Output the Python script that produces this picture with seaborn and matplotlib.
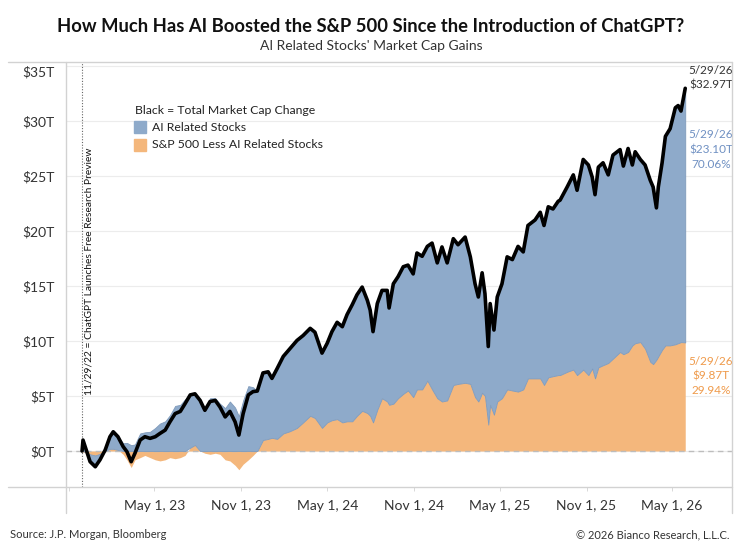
import matplotlib
matplotlib.use("Agg")
import numpy as np
import pandas as pd
import seaborn as sns
import matplotlib.pyplot as plt
from matplotlib.lines import Line2D
from matplotlib.patches import Rectangle
from matplotlib.transforms import ScaledTranslation

# Values (trillions of USD, change since 11/29/22)
dates = [
    "2022-11-29", "2022-12-01", "2022-12-16", "2022-12-27", "2023-01-06", "2023-01-17",
    "2023-01-27", "2023-02-03", "2023-02-13", "2023-02-24", "2023-03-04", "2023-03-13",
    "2023-03-21", "2023-04-01", "2023-04-11", "2023-04-22", "2023-05-03", "2023-05-13",
    "2023-05-24", "2023-06-03", "2023-06-14", "2023-06-25", "2023-07-05", "2023-07-16",
    "2023-07-26", "2023-08-06", "2023-08-16", "2023-08-27", "2023-09-07", "2023-09-17",
    "2023-09-28", "2023-10-08", "2023-10-19", "2023-10-27", "2023-11-05", "2023-11-16",
    "2023-11-26", "2023-12-05", "2023-12-17", "2023-12-28",
    "2024-01-05", "2024-01-16", "2024-01-29", "2024-02-12", "2024-02-27", "2024-03-11",
    "2024-03-26", "2024-04-05", "2024-04-20", "2024-05-01", "2024-05-11", "2024-05-22",
    "2024-06-02", "2024-06-12", "2024-06-23", "2024-07-03", "2024-07-14", "2024-07-25",
    "2024-07-31", "2024-08-06", "2024-08-15", "2024-08-25", "2024-09-05", "2024-09-09",
    "2024-09-18", "2024-09-28", "2024-10-09", "2024-10-19", "2024-10-30", "2024-11-07",
    "2024-11-18", "2024-11-29", "2024-12-09", "2024-12-20", "2024-12-30",
    "2025-01-10", "2025-01-23", "2025-02-02", "2025-02-17", "2025-02-28", "2025-03-10",
    "2025-03-17", "2025-03-25", "2025-03-31", "2025-04-07", "2025-04-11", "2025-04-19",
    "2025-04-26", "2025-05-06", "2025-05-17", "2025-05-28", "2025-06-09", "2025-06-20",
    "2025-06-30", "2025-07-15", "2025-07-26", "2025-08-03", "2025-08-12", "2025-08-22",
    "2025-09-02", "2025-09-06", "2025-09-21", "2025-10-04", "2025-10-12", "2025-10-25",
    "2025-11-05", "2025-11-13", "2025-11-19", "2025-11-26", "2025-12-06", "2025-12-17",
    "2025-12-27",
    "2026-01-11", "2026-01-18", "2026-01-28", "2026-02-06", "2026-02-12", "2026-02-23",
    "2026-03-05", "2026-03-16", "2026-03-22", "2026-03-29", "2026-04-02", "2026-04-10",
    "2026-04-17", "2026-04-27", "2026-05-08", "2026-05-14", "2026-05-20", "2026-05-29",
]
total_change = [
    0.0, 1.0, -0.97, -1.43, -0.8, 0.1,
    1.3, 1.75, 1.3, 0.4, -0.06, -0.97,
    -0.2, 1.0, 1.3, 1.15, 1.3, 1.6,
    1.9, 2.65, 3.4, 3.6, 4.3, 5.1,
    5.2, 4.6, 3.7, 4.5, 4.6, 4.0,
    3.1, 3.6, 2.65, 1.45, 3.4, 5.1,
    5.4, 5.45, 7.1, 7.2,
    6.6, 7.5, 8.6, 9.3, 10.05, 10.5,
    11.15, 10.8, 8.9, 9.8, 10.85, 11.7,
    11.3, 12.4, 13.3, 14.2, 14.9, 13.7,
    12.8, 10.85, 13.4, 14.6, 14.6, 13.0,
    15.2, 15.85, 16.75, 16.9, 16.1, 18.0,
    17.7, 18.6, 18.9, 17.1, 18.55,
    17.1, 19.3, 18.75, 19.45, 17.65, 15.2,
    14.0, 16.2, 14.3, 9.5, 13.4, 11.0,
    14.0, 15.2, 17.65, 17.4, 18.6, 18.1,
    20.5, 21.0, 21.7, 20.5, 22.2, 22.0,
    22.7, 22.8, 24.0, 25.1, 23.7, 26.5,
    26.0, 24.9, 23.3, 25.8, 26.2, 25.1,
    26.9,
    27.4, 25.9, 27.5, 26.0, 27.2, 26.5,
    26.0, 24.6, 24.0, 22.1, 24.0, 26.2,
    28.6, 29.3, 31.2, 31.4, 30.9, 32.97,
]
ex_ai_change = [
    0.0, -0.1, -0.3, -0.4, -0.25, -0.1,
    0.2, 0.2, 0.1, -0.3, -0.8, -1.5,
    -0.8, -0.6, -0.4, -0.6, -0.8, -0.9,
    -0.8, -0.6, -0.7, -0.6, -0.4, 0.3,
    0.55, 0.0, -0.2, -0.3, -0.2, -0.3,
    -0.8, -0.9, -1.3, -1.7, -1.2, -0.8,
    -0.4, 0.0, 1.0, 1.1,
    1.2, 1.1, 1.6, 1.8, 2.1, 2.6,
    3.2, 3.0, 2.1, 2.6, 2.8, 2.9,
    2.6, 2.7, 2.7, 3.2, 3.65, 3.45,
    3.2, 2.6, 3.75, 4.8, 4.5, 4.2,
    4.3, 4.8, 5.2, 5.5, 4.9, 5.6,
    5.6, 6.4, 5.6, 4.8, 4.5,
    4.6, 6.0, 6.1, 6.2, 6.1, 4.9,
    4.5, 5.3, 5.0, 2.4, 4.2, 3.3,
    4.5, 4.8, 5.6, 5.5, 5.4, 5.6,
    6.6, 6.6, 6.6, 6.0, 6.7, 6.8,
    6.9, 6.9, 7.2, 7.4, 6.9, 7.4,
    6.9, 7.5, 6.6, 7.6, 7.8, 8.0,
    8.4,
    9.0, 8.8, 9.0, 9.6, 9.8, 9.9,
    9.3, 8.1, 7.9, 8.3, 8.6, 9.2,
    9.6, 9.6, 9.7, 9.8, 9.9, 9.87,
]

tick_dates = ["2022-11-01", "2023-05-01", "2023-11-01", "2024-05-01",
              "2024-11-01", "2025-05-01", "2025-11-01", "2026-05-01"]
tick_labels = ["", "May 1, 23", "Nov 1, 23", "May 1, 24",
               "Nov 1, 24", "May 1, 25", "Nov 1, 25", "May 1, 26"]
y_ticks = [0, 5, 10, 15, 20, 25, 30, 35]
y_labels = ["$0T", "$5T", "$10T", "$15T", "$20T", "$25T", "$30T", "$35T"]

df = pd.DataFrame({"date": pd.to_datetime(dates),
                   "total": total_change,
                   "ex_ai": ex_ai_change})
df["ai"] = df["total"] - df["ex_ai"]

# positive and negative parts stack separately
o_pos = df["ex_ai"].clip(lower=0).values
o_neg = df["ex_ai"].clip(upper=0).values
blue_lo = np.where(df["ai"].values >= 0, o_pos, o_neg)
blue_hi = blue_lo + df["ai"].values

BLUE = "#8eaaca"
ORANGE = "#f4b77c"
BLUE_TXT = "#6f90c2"
ORANGE_TXT = "#ef9a4a"
FRAME = "#d2d2d2"

sns.set_theme(style="white")
plt.rcParams["font.family"] = ["Lato", "DejaVu Sans"]

fig = plt.figure(figsize=(7.42, 5.46), dpi=100)
ax = fig.add_axes([66 / 742, 59 / 546, 666 / 742, 425 / 546])

ax.yaxis.grid(True, color="#ececec", lw=0.8)
ax.set_axisbelow(True)

ax.fill_between(df["date"], 0, df["ex_ai"], color=ORANGE, lw=0, zorder=2)
ax.fill_between(df["date"], blue_lo, blue_hi, facecolor=BLUE,
                edgecolor="#7f9abb", lw=0.6, zorder=3)
ax.axhline(0, color="#bdbdbd", ls=(0, (4, 3)), lw=1, zorder=2.5)
sns.lineplot(data=df, x="date", y="total", color="black", lw=2.6, ax=ax, zorder=4)

launch = pd.Timestamp("2022-11-29")
ax.axvline(launch, color="#666666", ls=(0, (1, 1.5)), lw=0.8, zorder=1)
ax.annotate("11/29/22 = ChatGPT Launches Free Research Preview",
            xy=(launch, 5.1), xytext=(2, 0), textcoords="offset points",
            rotation=90, ha="left", va="bottom", fontsize=7.4, color="#111111")

ax.set_xlim(pd.Timestamp("2022-10-26"), pd.Timestamp("2026-09-05"))
ax.set_ylim(-3.27, 35.36)
ax.set_yticks(y_ticks)
ax.set_yticklabels(y_labels)
ax.set_xticks(pd.to_datetime(tick_dates))
ax.set_xticklabels(tick_labels)
ax.tick_params(axis="y", length=0, pad=8, labelsize=10, labelcolor="#333333")
ax.tick_params(axis="x", length=3, width=0.6, color=FRAME, pad=6,
               labelsize=10, labelcolor="#333333", bottom=True)
ax.set_xlabel("")
ax.set_ylabel("")
for s in ax.spines.values():
    s.set_visible(False)
# top label sits a little lower so it stays inside the frame
top_lbl = ax.get_yticklabels()[-1]
top_lbl.set_transform(top_lbl.get_transform() +
                      ScaledTranslation(0, -5 / 100, fig.dpi_scale_trans))

# end-of-series labels
end = df["date"].iloc[-1]
ax.annotate(f"5/29/26\n${total_change[-1]:.2f}T", xy=(end, 33.9), xytext=(18.5, 0),
            textcoords="offset points", ha="center", va="center",
            fontsize=8.5, color="#333333", linespacing=1.4)
ai_last = total_change[-1] - ex_ai_change[-1]
ax.annotate(f"5/29/26\n${ai_last:.2f}T\n{ai_last / total_change[-1] * 100:.2f}%",
            xy=(end, 27.4), xytext=(18.5, 0), textcoords="offset points",
            ha="center", va="center", fontsize=8.5, color=BLUE_TXT, linespacing=1.4)
ax.annotate(f"5/29/26\n${ex_ai_change[-1]:.2f}T\n{ex_ai_change[-1] / total_change[-1] * 100:.2f}%",
            xy=(end, 6.8), xytext=(18.5, 0), textcoords="offset points",
            ha="center", va="center", fontsize=8.5, color=ORANGE_TXT, linespacing=1.4)

# frame lines
def fline(x0, y0, x1, y1):
    fig.add_artist(Line2D([x0 / 742, x1 / 742], [1 - y0 / 546, 1 - y1 / 546],
                          transform=fig.transFigure, color=FRAME, lw=1))

fline(8, 62, 732, 62)
fline(8, 487, 732, 487)
fline(66, 62, 66, 513)
fline(732, 62, 732, 513)

# legend
fig.text(135 / 742, 1 - 111 / 546, "Black = Total Market Cap Change",
         fontsize=8.8, va="center", color="#222222")
fig.add_artist(Rectangle((134 / 742, 1 - 133 / 546), 12 / 742, 12 / 546,
                         transform=fig.transFigure, color=BLUE))
fig.add_artist(Rectangle((134 / 742, 1 - 151 / 546), 12 / 742, 12 / 546,
                         transform=fig.transFigure, color=ORANGE))
fig.text(152 / 742, 1 - 127 / 546, "AI Related Stocks", fontsize=8.8, va="center", color="#222222")
fig.text(152 / 742, 1 - 145 / 546, "S&P 500 Less AI Related Stocks", fontsize=8.8,
         va="center", color="#222222")

# titles and footer
fig.text(0.5, 1 - 27 / 546,
         "How Much Has AI Boosted the S&P 500 Since the Introduction of ChatGPT?",
         ha="center", va="center", fontsize=13.2, weight="bold", color="#111111")
fig.text(0.5, 1 - 46 / 546, "AI Related Stocks' Market Cap Gains",
         ha="center", va="center", fontsize=10, color="#333333")
fig.text(10 / 742, 1 - 535 / 546, "Source: J.P. Morgan, Bloomberg",
         fontsize=8, va="center", color="#333333")
fig.text(729 / 742, 1 - 535 / 546, "\u00a9 2026 Bianco Research, L.L.C.",
         fontsize=8, va="center", ha="right", color="#333333")

fig.savefig("out.png", dpi=100)
